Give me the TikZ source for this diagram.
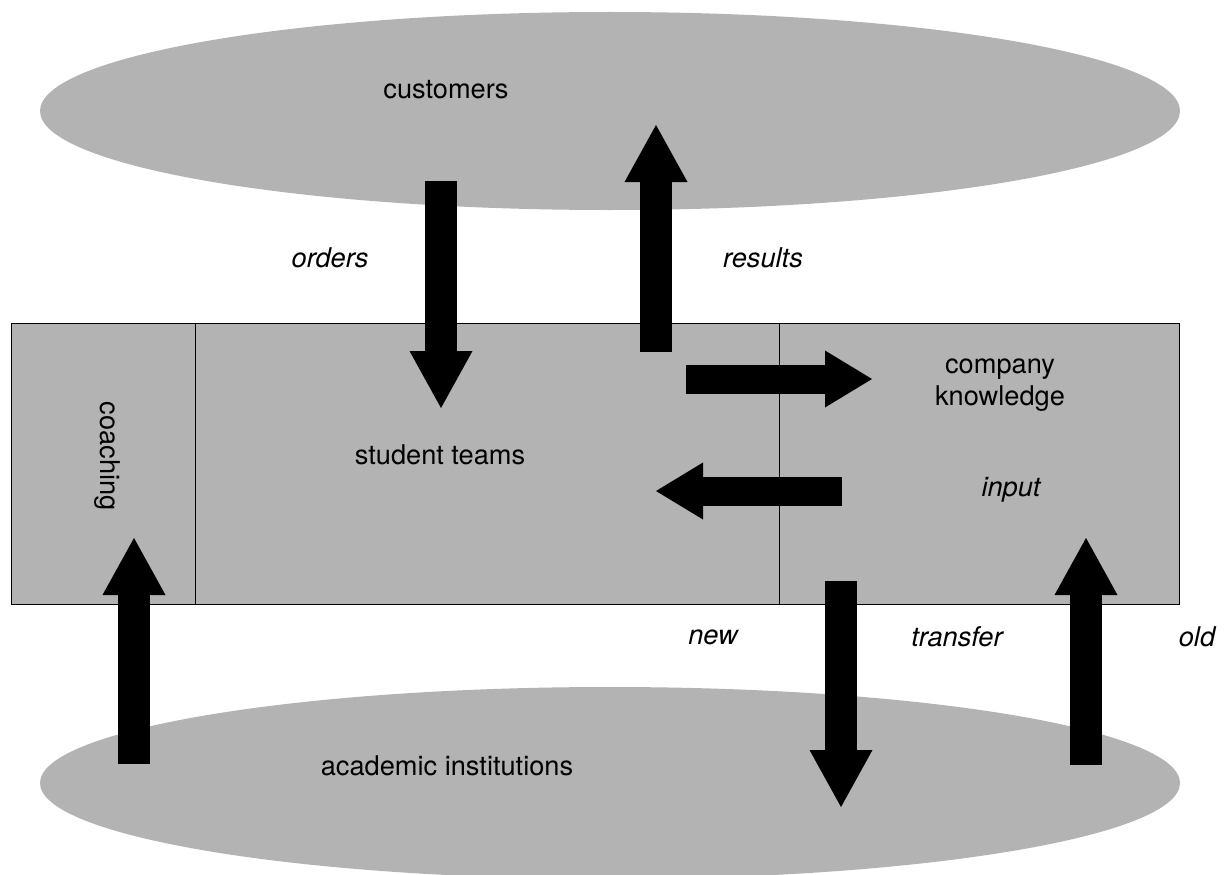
\documentclass[tikz,border=0pt]{standalone}
\usepackage{fontspec}
\setmainfont{TeX Gyre Heros}
\usetikzlibrary{arrows.meta,shapes.geometric}
\definecolor{panel}{RGB}{179,179,179}
\tikzset{
  blob/.style={ellipse, fill=panel, draw=none, inner sep=0pt},
  box/.style={rectangle, fill=panel, draw=black, line width=1.3pt, inner sep=0pt, anchor=north west},
  txt/.style={font=\fontsize{27.2}{33}\selectfont, inner sep=0pt, align=center},
  itxt/.style={txt, font=\fontsize{27.2}{33}\selectfont\itshape},
  vflow/.style={draw=black, line width=32.5pt, line cap=butt,
    -{Triangle[width=63pt,length=57pt,line width=0pt]}},
  hflow/.style={draw=black, line width=29pt, line cap=butt,
    -{Triangle[width=57pt,length=47pt,line width=0pt]}},
}
\begin{document}
\begin{tikzpicture}[x=1pt,y=-1pt]
\clip (0,0) rectangle (1226,875);
\fill[white] (0,0) rectangle (1226,875);
% ellipses
\node[blob, minimum width=1140pt, minimum height=198pt] (cust) at (610,111) {};
\node[blob, minimum width=1140pt, minimum height=192pt] (acad) at (610,783) {};
% boxes
\node[box, minimum width=184pt, minimum height=281pt] (coach) at (11,323) {};
\node[box, minimum width=584pt, minimum height=281pt] (teams) at (195,323) {};
\node[box, minimum width=400pt, minimum height=281pt] (comp) at (779,323) {};
% texts
\node[txt] (tcust) at (446,90) {customers};
\node[txt] (tteams) at (440,455) {student teams};
\node[txt, rotate=-90] (tcoach) at (107,456) {coaching};
\node[txt, font=\fontsize{27.2}{32.5}\selectfont] (tcomp) at (1000,385) {company\\knowledge};
\node[itxt] (tinput) at (1011,490) {input};
\node[txt] (tacad) at (447,766) {academic institutions};
\node[itxt] (torders) at (330,258) {orders};
\node[itxt] (tresults) at (763,258) {results};
\node[itxt] (tnew) at (713,637) {new};
\node[itxt] (ttransfer) at (957,637) {transfer};
\node[itxt] (told) at (1197,637) {old};
% arrow endpoints
\coordinate (o1) at (441,181); \coordinate (o2) at (441,408);
\coordinate (r1) at (656,352); \coordinate (r2) at (656,125);
\coordinate (k1) at (686,379); \coordinate (k2) at (872,379);
\coordinate (i1) at (842,491); \coordinate (i2) at (656,491);
\coordinate (c1) at (134,764); \coordinate (c2) at (134,538);
\coordinate (t1) at (841,581); \coordinate (t2) at (841,807);
\coordinate (d1) at (1086,765); \coordinate (d2) at (1086,538);
\draw[vflow] (o1) -- (o2);
\draw[vflow] (r1) -- (r2);
\draw[hflow] (k1) -- (k2);
\draw[hflow] (i1) -- (i2);
\draw[vflow] (c1) -- (c2);
\draw[vflow] (t1) -- (t2);
\draw[vflow] (d1) -- (d2);
\end{tikzpicture}
\end{document}
